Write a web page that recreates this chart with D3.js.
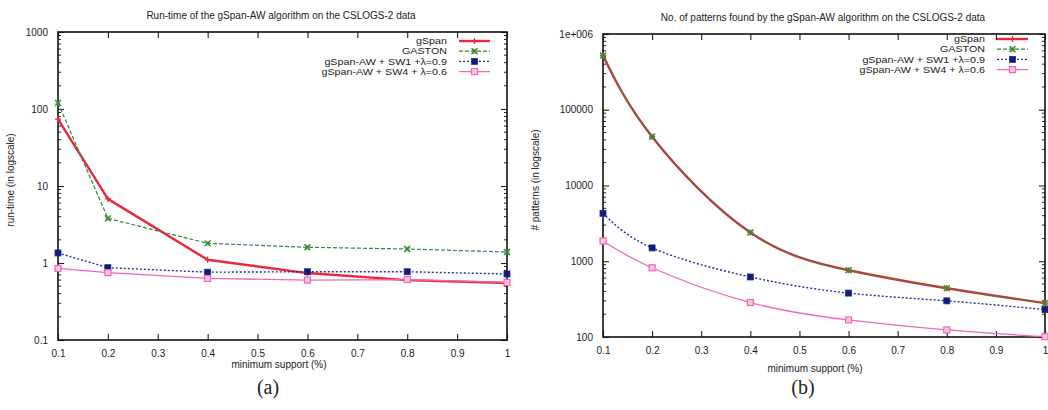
<!DOCTYPE html>
<html>
<head>
<meta charset="utf-8">
<script src="https://cdn.jsdelivr.net/npm/d3@7"></script>
<style>
  html, body { margin: 0; padding: 0; background: #fff; }
  svg { display: block; font-family: "Liberation Sans", Arial, sans-serif; }
</style>
</head>
<body>
<svg id="fig" width="1048" height="410"></svg>
<script>
// Minimum support values (%) at which each algorithm was run
const supports = [0.1, 0.2, 0.4, 0.6, 0.8, 1];
const xTickValues = [0.1, 0.2, 0.3, 0.4, 0.5, 0.6, 0.7, 0.8, 0.9, 1];
const xTickLabels = ["0.1", "0.2", "0.3", "0.4", "0.5", "0.6", "0.7", "0.8", "0.9", "1"];

const seriesNames = ["gSpan", "GASTON", "gSpan-AW + SW1 +\u03bb=0.9", "gSpan-AW + SW4 + \u03bb=0.6"];

// (a) run-time in seconds
const runGSpan  = [74, 6.8, 1.1, 0.74, 0.6, 0.55];
const runGaston = [120, 3.8, 1.8, 1.6, 1.52, 1.39];
const runSW1    = [1.35, 0.87, 0.76, 0.77, 0.77, 0.72];
const runSW4    = [0.85, 0.75, 0.63, 0.6, 0.61, 0.56];
const runYTicks = [0.1, 1, 10, 100, 1000];
const runYLabels = ["0.1", "1", "10", "100", "1000"];

// (b) number of patterns found
const patGSpan  = [520000, 44000, 2400, 760, 440, 280];
const patGaston = [520000, 44000, 2400, 760, 440, 280];
const patSW1    = [4300, 1500, 620, 380, 300, 230];
const patSW4    = [1850, 820, 285, 168, 124, 101];
const patYTicks = [100, 1000, 10000, 100000, 1000000];
const patYLabels = ["100", "1000", "10000", "100000", "1e+006"];

const styles = [
  { color: "#e8283c", width: 2.4, dash: null,  marker: "plus" },
  { color: "#2d8a3a", width: 1.2, dash: "4,2", marker: "cross" },
  { color: "#1f2fa0", width: 1.4, dash: "2,2", marker: "fsquare" },
  { color: "#f466b4", width: 1.3, dash: null,  marker: "osquare" }
];

const svg = d3.select("#fig");

function drawMarker(g, kind, x, y, color) {
  const s = 3;
  if (kind === "plus") {
    g.append("path").attr("d", `M${x - s},${y}H${x + s}M${x},${y - s}V${y + s}`)
      .attr("stroke", color).attr("stroke-width", 1.3).attr("fill", "none");
  } else if (kind === "cross") {
    g.append("rect").attr("x", x - 2.5).attr("y", y - 2.5).attr("width", 5).attr("height", 5)
      .attr("fill", "#6a9a3a").attr("stroke", "none").attr("opacity", 0.6);
    g.append("path").attr("d", `M${x - s},${y - s}L${x + s},${y + s}M${x - s},${y + s}L${x + s},${y - s}`)
      .attr("stroke", color).attr("stroke-width", 1.3).attr("fill", "none");
  } else if (kind === "fsquare") {
    g.append("rect").attr("x", x - 3).attr("y", y - 3).attr("width", 6).attr("height", 6)
      .attr("fill", "#141c6e").attr("stroke", color).attr("stroke-width", 0.8);
  } else {
    g.append("rect").attr("x", x - 3).attr("y", y - 3).attr("width", 6).attr("height", 6)
      .attr("fill", "#fbc6e0").attr("stroke", color).attr("stroke-width", 1.2);
  }
}

function drawPanel(cfg) {
  const g = svg.append("g");
  const x = d3.scaleLinear().domain([0.1, 1]).range([cfg.left, cfg.right]);
  const y = d3.scaleLog().domain(cfg.yDomain).range([cfg.bottom, cfg.top]);

  // Minor log ticks on both vertical sides
  const minor = [];
  for (let d = cfg.yDomain[0]; d < cfg.yDomain[1]; d *= 10) {
    for (let k = 2; k <= 9; k++) minor.push(d * k);
  }
  const minorPath = minor.map(v => {
    const yy = y(v);
    return `M${cfg.left},${yy}h3M${cfg.right},${yy}h-3`;
  }).join("");
  g.append("path").attr("d", minorPath).attr("stroke", "#222").attr("stroke-width", 1);

  // Major y ticks
  const yAxisL = d3.axisLeft(y).tickValues(cfg.yTicks).tickSize(-6)
    .tickFormat((d, i) => cfg.yLabels[i]).tickPadding(10);
  const gy = g.append("g").attr("transform", `translate(${cfg.left},0)`).call(yAxisL);
  const yAxisR = d3.axisRight(y).tickValues(cfg.yTicks).tickSize(-6).tickFormat("");
  const gyr = g.append("g").attr("transform", `translate(${cfg.right},0)`).call(yAxisR);

  // Major x ticks on bottom and top
  const xAxisB = d3.axisBottom(x).tickValues(xTickValues).tickSize(-6)
    .tickFormat((d, i) => xTickLabels[i]).tickPadding(10);
  const gx = g.append("g").attr("transform", `translate(0,${cfg.bottom})`).call(xAxisB);
  const xAxisT = d3.axisTop(x).tickValues(xTickValues).tickSize(-6).tickFormat("");
  const gxt = g.append("g").attr("transform", `translate(0,${cfg.top})`).call(xAxisT);

  [gy, gyr, gx, gxt].forEach(a => {
    a.select(".domain").remove();
    a.selectAll(".tick line").attr("stroke", "#222").attr("stroke-width", 1.1);
    a.selectAll("text").attr("font-size", 10).attr("fill", "#222")
      .attr("font-family", "'Liberation Sans', Arial, sans-serif");
  });

  // Frame
  g.append("rect").attr("x", cfg.left).attr("y", cfg.top)
    .attr("width", cfg.right - cfg.left).attr("height", cfg.bottom - cfg.top)
    .attr("fill", "none").attr("stroke", "#111").attr("stroke-width", 1.6);

  // Series
  const line = d3.line().x((d, i) => x(supports[i])).y(d => y(d)).curve(cfg.curve);
  cfg.series.forEach((vals, si) => {
    const st = styles[si];
    g.append("path").datum(vals).attr("d", line)
      .attr("fill", "none").attr("stroke", st.color).attr("stroke-width", st.width)
      .attr("stroke-dasharray", st.dash).attr("stroke-linejoin", "round");
  });
  cfg.series.forEach((vals, si) => {
    const st = styles[si];
    vals.forEach((v, i) => drawMarker(g, st.marker, x(supports[i]), y(v), st.color));
  });

  // Legend (text slightly widened, as in the gnuplot key)
  seriesNames.forEach((name, si) => {
    const st = styles[si];
    const ry = cfg.legendTop + si * 10.2;
    g.append("text")
      .attr("transform", `translate(${cfg.legendTextEnd},${ry + 3.2}) scale(1.22,1)`)
      .attr("text-anchor", "end").attr("font-size", 8.8).attr("fill", "#222").text(name);
    g.append("line").attr("x1", cfg.legendTextEnd + 12).attr("x2", cfg.legendTextEnd + 43)
      .attr("y1", ry).attr("y2", ry)
      .attr("stroke", st.color).attr("stroke-width", st.width).attr("stroke-dasharray", st.dash);
    drawMarker(g, st.marker, cfg.legendTextEnd + 27.5, ry, st.color);
  });

  // Titles and axis labels
  g.append("text").attr("x", cfg.titleX).attr("y", cfg.titleY).attr("text-anchor", "middle")
    .attr("font-size", 10).attr("fill", "#222").text(cfg.title);
  g.append("text").attr("x", cfg.xLabelX).attr("y", cfg.xLabelY).attr("text-anchor", "middle")
    .attr("font-size", 10).attr("fill", "#222").text("minimum support (%)");
  g.append("text").attr("transform", `translate(${cfg.yLabelX},${cfg.yLabelY}) rotate(-90)`)
    .attr("text-anchor", "middle").attr("font-size", 10).attr("fill", "#222").text(cfg.yLabel);
  g.append("text").attr("x", cfg.capX).attr("y", 394).attr("text-anchor", "middle")
    .attr("font-family", "'Liberation Serif', 'DejaVu Serif', serif").attr("font-size", 20)
    .attr("fill", "#222").text(cfg.caption);
}

drawPanel({
  left: 58, right: 507, top: 32, bottom: 340,
  yDomain: [0.1, 1000], yTicks: runYTicks, yLabels: runYLabels,
  series: [runGSpan, runGaston, runSW1, runSW4],
  curve: d3.curveLinear,
  legendTop: 41, legendTextEnd: 447,
  title: "Run-time of the gSpan-AW algorithm on the CSLOGS-2 data", titleX: 281, titleY: 19,
  xLabelX: 279, xLabelY: 368,
  yLabel: "run-time (in logscale)", yLabelX: 14, yLabelY: 180,
  caption: "(a)", capX: 268
});

drawPanel({
  left: 603, right: 1045, top: 34, bottom: 337,
  yDomain: [100, 1000000], yTicks: patYTicks, yLabels: patYLabels,
  series: [patGSpan, patGaston, patSW1, patSW4],
  curve: d3.curveNatural,
  legendTop: 39, legendTextEnd: 985,
  title: "No. of patterns found by the gSpan-AW algorithm on the CSLOGS-2 data", titleX: 823, titleY: 21,
  xLabelX: 815, xLabelY: 372,
  yLabel: "# patterns (in logscale)", yLabelX: 539, yLabelY: 180,
  caption: "(b)", capX: 803
});
</script>
</body>
</html>
